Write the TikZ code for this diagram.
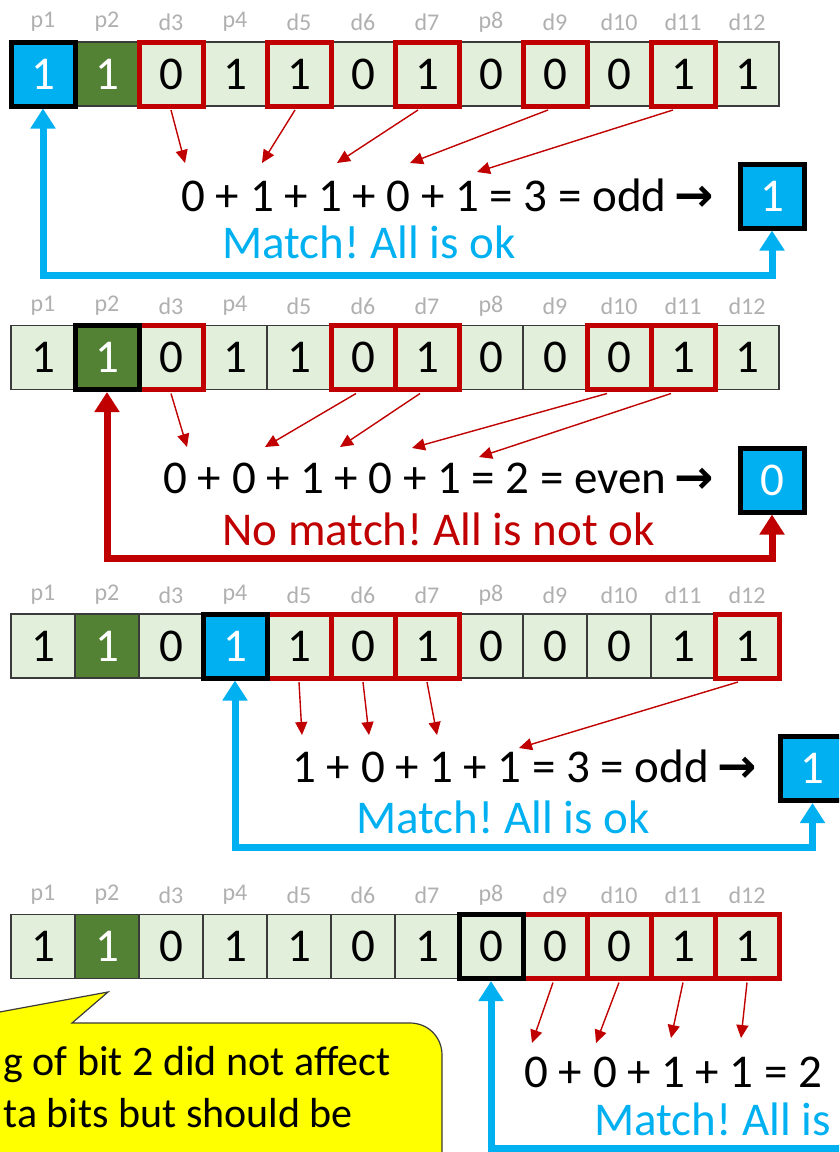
\documentclass[tikz,border=0pt]{standalone}
\usepackage{fontspec}
\setmainfont{Carlito}
\newfontfamily\arrowfont{DejaVu Sans}
\usepackage{tikz}
\usetikzlibrary{arrows.meta}
\definecolor{cellfill}{HTML}{E2EFDA}
\definecolor{cellline}{HTML}{3A3A3A}
\definecolor{flipgreen}{HTML}{548235}
\definecolor{okcyan}{HTML}{00B0F0}
\definecolor{badred}{HTML}{C00000}
\definecolor{labelgray}{HTML}{B0B0B0}
\definecolor{noteyellow}{HTML}{FFFF00}
\newcommand{\toarrow}{\hspace{8pt}{\arrowfont\bfseries →}}
\tikzset{
	bit/.style={rectangle, draw=cellline, fill=cellfill, line width=1.2pt, minimum size=64pt, inner sep=0pt, outer sep=0pt, font=\fontsize{47}{56}\selectfont}, % one cell of the code word
	flip/.style={bit, fill=flipgreen, text=white}, % the bit that was flipped
	cbit/.style={bit, fill=okcyan, text=white}, % parity bit under test
	lbl/.style={text=labelgray, font=\fontsize{24}{28}\selectfont}, % bit names above the cells
	sel/.style={draw=badred, line width=5pt}, % bits taken into the sum
	chk/.style={draw=black, line width=5pt}, % parity bit being checked
	res/.style={cbit, draw=black, line width=5pt, outer sep=2.5pt}, % computed parity
	sum/.style={anchor=base west, font=\fontsize{47}{56}\selectfont}, % the sum line
	note/.style={anchor=base west, font=\fontsize{42}{52}\selectfont}, % callout text
	pick/.style={-{Triangle[width=12pt,length=13pt]}, draw=badred, line width=1.4pt}, % thin red arrows
	okline/.style={<->, >={Triangle[width=24pt,length=20pt]}, draw=okcyan, line width=7pt}, % result goes back
	badline/.style={okline, draw=badred},
}

\begin{document}
\frenchspacing
\begin{tikzpicture}[x=1pt, y=-1pt]
	\useasboundingbox (0,0) rectangle (839,1152);
	\clip (0,0) rectangle (839,1152);

	% check of p1
	\foreach \lab/\val/\sty [count=\i] in {p1/1/cbit, p2/1/flip, d3/0/bit, p4/1/bit, d5/1/bit, d6/0/bit, d7/1/bit, p8/0/bit, d9/0/bit, d10/0/bit, d11/1/bit, d12/1/bit} {
		\node[\sty] (a\i) at ({64*\i-21},74) {\val};
		\node[lbl] (la\i) at ({64*\i-21},22) {\lab};
	}
	\foreach \i in {3,5,7,9,11} \draw[sel] (a\i.north west) rectangle (a\i.south east);
	\draw[chk] (a1.north west) rectangle (a1.south east);
	\foreach \i/\dx/\x/\y in {3/0/185/163, 5/-4/262/163, 7/-9/337/163, 9/-7/410/163, 11/-10/477/172} {
		\coordinate (ta\i) at (\x,\y);
		\draw[pick] ([xshift=\dx pt, yshift=-4pt]a\i.south) -- (ta\i);
	}
	\node[sum] (eq1) at (178,211) {0 + 1 + 1 + 0 + 1 = 3 = odd\toarrow};
	\node[res] (r1) at (772,196) {1};
	\node[sum, text=okcyan] (ok1) at (219,258) {Match! All is ok};
	\draw[okline, shorten >=2.5pt] (r1.south) -- ++(0,45) -| (a1.south);

	% check of p2
	\foreach \lab/\val/\sty [count=\i] in {p1/1/bit, p2/1/flip, d3/0/bit, p4/1/bit, d5/1/bit, d6/0/bit, d7/1/bit, p8/0/bit, d9/0/bit, d10/0/bit, d11/1/bit, d12/1/bit} {
		\node[\sty] (b\i) at ({64*\i-21},357.5) {\val};
		\node[lbl] (lb\i) at ({64*\i-21},306) {\lab};
	}
	\foreach \i in {3,6,7,10,11} \draw[sel] (b\i.north west) rectangle (b\i.south east);
	\draw[chk] (b2.north west) rectangle (b2.south east);
	\foreach \i/\dx/\x/\y in {3/0/187/447, 6/-7/265/447, 7/-7/340/447, 10/-12/412/448, 11/-12/479/457} {
		\coordinate (tb\i) at (\x,\y);
		\draw[pick] ([xshift=\dx pt, yshift=-4pt]b\i.south) -- (tb\i);
	}
	\node[sum] (eq2) at (160,493) {0 + 0 + 1 + 0 + 1 = 2 = even\toarrow};
	\node[res] (r2) at (772,480) {0};
	\node[sum, text=badred] (no2) at (219,545) {No match! All is not ok};
	\draw[badline, shorten >=2.5pt] (r2.south) -- ++(0,44) -| (b2.south);

	% check of p4
	\foreach \lab/\val/\sty [count=\i] in {p1/1/bit, p2/1/flip, d3/0/bit, p4/1/cbit, d5/1/bit, d6/0/bit, d7/1/bit, p8/0/bit, d9/0/bit, d10/0/bit, d11/1/bit, d12/1/bit} {
		\node[\sty] (c\i) at ({64*\i-21},646) {\val};
		\node[lbl] (lc\i) at ({64*\i-21},595) {\lab};
	}
	\foreach \i in {5,6,7,12} \draw[sel] (c\i.north west) rectangle (c\i.south east);
	\draw[chk] (c4.north west) rectangle (c4.south east);
	\foreach \i/\dx/\x/\y in {5/0/302/735, 6/0/369/735, 7/0/437/735, 12/-9/519/748} {
		\coordinate (tc\i) at (\x,\y);
		\draw[pick] ([xshift=\dx pt, yshift=-4pt]c\i.south) -- (tc\i);
	}
	\node[sum] (eq3) at (289,782) {1 + 0 + 1 + 1 = 3 = odd\toarrow};
	\node[res] (r3) at (812.5,768.5) {1};
	\node[sum, text=okcyan] (ok3) at (353,833) {Match! All is ok};
	\draw[okline, shorten >=2.5pt] (r3.south) -- ++(0,44) -| (c4.south);

	% check of p8
	\foreach \lab/\val/\sty [count=\i] in {p1/1/bit, p2/1/flip, d3/0/bit, p4/1/bit, d5/1/bit, d6/0/bit, d7/1/bit, p8/0/bit, d9/0/bit, d10/0/bit, d11/1/bit, d12/1/bit} {
		\node[\sty] (d\i) at ({64*\i-21},946.5) {\val};
		\node[lbl] (ld\i) at ({64*\i-21},895) {\lab};
	}
	\foreach \i in {9,10,11,12} \draw[sel] (d\i.north west) rectangle (d\i.south east);
	\draw[chk] (d8.north west) rectangle (d8.south east);
	\foreach \i/\dx/\x/\y in {9/-2/532/1043, 10/0/596/1043, 11/0/671/1038, 12/0/741/1038} {
		\coordinate (td\i) at (\x,\y);
		\draw[pick] ([xshift=\dx pt, yshift=-4pt]d\i.south) -- (td\i);
	}
	\node[sum] (eq4) at (521,1087) {0 + 0 + 1 + 1 = 2};
	\node[sum, text=okcyan] (ok4) at (591,1135) {Match! All is};
	\coordinate (r4) at (900,1148);
	\draw[okline, -, {Triangle[width=24pt,length=20pt]}-, shorten <=2.5pt] (d8.south) |- (r4);

	% callout
	\draw[fill=noteyellow, draw=cellline, line width=1.2pt] (-60,1023) -- (108,992) -- (72,1023) -- (410,1023)
		.. controls (428,1023) and (442,1037) .. (442,1055) -- (442,1200) -- (-60,1200) -- cycle;
	\node[note] (n1) at (0,1075) {g of bit 2 did not affect};
	\node[note] (n2) at (0,1127) {ta bits but should be};
\end{tikzpicture}
\end{document}
